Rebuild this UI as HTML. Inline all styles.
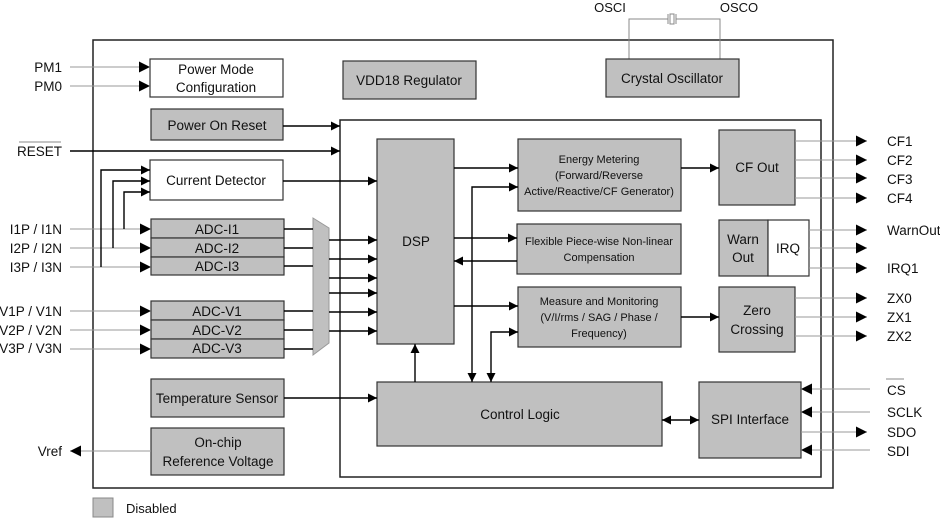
<!DOCTYPE html>
<html><head><meta charset="utf-8"><style>
html,body{margin:0;padding:0;background:#fff;}
svg{display:block;}
text{font-family:"Liberation Sans",sans-serif;fill:#111;}
</style></head><body>
<svg width="940" height="518" viewBox="0 0 940 518" xmlns="http://www.w3.org/2000/svg">
<defs>
<marker id="a" viewBox="0 0 10 10" refX="10" refY="5" markerWidth="13" markerHeight="9" markerUnits="userSpaceOnUse" orient="auto"><path d="M0,0L10,5L0,10z" fill="#000"/></marker>
<marker id="b" viewBox="0 0 10 10" refX="10" refY="5" markerWidth="15" markerHeight="11" markerUnits="userSpaceOnUse" orient="auto"><path d="M0,0L10,5L0,10z" fill="#000"/></marker>
<marker id="s" viewBox="0 0 10 10" refX="0" refY="5" markerWidth="13" markerHeight="9" markerUnits="userSpaceOnUse" orient="auto"><path d="M10,0L0,5L10,10z" fill="#000"/></marker>
</defs>
<!-- outer boxes -->
<rect x="93" y="40" width="740" height="448" fill="none" stroke="#222" stroke-width="1.5"/>
<rect x="340" y="120" width="481" height="357" fill="none" stroke="#222" stroke-width="1.5"/>
<!-- crystal -->
<g stroke="#888" fill="none" stroke-width="1">
<path d="M629,59V19H668M676,19H720V59"/>
<path d="M668,14V24M676,14V24"/><rect x="670" y="14" width="4" height="10"/>
</g>
<text x="610" y="12" font-size="13" text-anchor="middle">OSCI</text>
<text x="739" y="12" font-size="13" text-anchor="middle">OSCO</text>
<g stroke="#333" stroke-width="1.2">
<rect x="150" y="59" width="133" height="38" fill="#fff"/>
<rect x="343" y="61" width="133" height="38" fill="#c0c0c0"/>
<rect x="606" y="59" width="133" height="38" fill="#c0c0c0"/>
<rect x="151" y="109" width="132" height="31" fill="#c0c0c0"/>
<rect x="150" y="160" width="133" height="40" fill="#fff"/>
<rect x="151" y="219" width="133" height="19" fill="#c0c0c0"/>
<rect x="151" y="238" width="133" height="19" fill="#c0c0c0"/>
<rect x="151" y="257" width="133" height="18" fill="#c0c0c0"/>
<rect x="151" y="301" width="133" height="19" fill="#c0c0c0"/>
<rect x="151" y="320" width="133" height="19" fill="#c0c0c0"/>
<rect x="151" y="339" width="133" height="19" fill="#c0c0c0"/>
<rect x="151" y="379" width="133" height="38" fill="#c0c0c0"/>
<rect x="151" y="428" width="133" height="47" fill="#c0c0c0"/>
<rect x="377" y="139" width="77" height="205" fill="#c0c0c0"/>
<rect x="518" y="139" width="163" height="72" fill="#c0c0c0"/>
<rect x="517" y="224" width="164" height="50" fill="#c0c0c0"/>
<rect x="518" y="287" width="163" height="60" fill="#c0c0c0"/>
<rect x="719" y="130" width="76" height="75" fill="#c0c0c0"/>
<rect x="719" y="220" width="49" height="56" fill="#c0c0c0"/>
<rect x="768" y="220" width="41" height="56" fill="#fff"/>
<rect x="719" y="287" width="76" height="65" fill="#c0c0c0"/>
<rect x="377" y="382" width="285" height="64" fill="#c0c0c0"/>
<rect x="699" y="382" width="102" height="76" fill="#c0c0c0"/>
</g>
<rect x="93" y="498" width="20" height="19" fill="#c0c0c0" stroke="#888"/>
<polygon points="313,218 329,228 329,343 313,355" fill="#c0c0c0" stroke="#999"/>
<!-- box texts -->
<g font-size="13.5" text-anchor="middle">
<text x="216" y="74">Power Mode</text><text x="216" y="92">Configuration</text>
<text x="409" y="85">VDD18 Regulator</text>
<text x="672" y="83">Crystal Oscillator</text>
<text x="217" y="130">Power On Reset</text>
<text x="216" y="185">Current Detector</text>
<text x="217" y="234">ADC-I1</text><text x="217" y="253">ADC-I2</text><text x="217" y="271">ADC-I3</text>
<text x="217" y="316">ADC-V1</text><text x="217" y="335">ADC-V2</text><text x="217" y="353">ADC-V3</text>
<text x="217" y="403">Temperature Sensor</text>
<text x="218" y="447">On-chip</text><text x="218" y="466">Reference Voltage</text>
<text x="416" y="246">DSP</text>
<text x="757" y="172">CF Out</text>
<text x="743" y="244">Warn</text><text x="743" y="262">Out</text>
<text x="788" y="253">IRQ</text>
<text x="757" y="315">Zero</text><text x="757" y="334">Crossing</text>
<text x="520" y="419">Control Logic</text>
<text x="750" y="424">SPI Interface</text>
</g>
<g font-size="11" text-anchor="middle">
<text x="599" y="163">Energy Metering</text><text x="599" y="179">(Forward/Reverse</text><text x="599" y="195">Active/Reactive/CF Generator)</text>
<text x="599" y="245">Flexible Piece-wise Non-linear</text><text x="599" y="261">Compensation</text>
<text x="599" y="305">Measure and Monitoring</text><text x="599" y="321">(V/I/rms / SAG / Phase /</text><text x="599" y="337">Frequency)</text>
</g>
<text x="126" y="513" font-size="13">Disabled</text>
<!-- left labels -->
<g font-size="13.5" text-anchor="end">
<text x="62" y="72">PM1</text><text x="62" y="91">PM0</text>
<text x="62" y="156">RESET</text>
<text x="62" y="234">I1P / I1N</text><text x="62" y="253">I2P / I2N</text><text x="62" y="272">I3P / I3N</text>
<text x="62" y="316">V1P / V1N</text><text x="62" y="335">V2P / V2N</text><text x="62" y="353">V3P / V3N</text>
<text x="62" y="456">Vref</text>
</g>
<line x1="19" y1="142" x2="61" y2="142" stroke="#888"/>
<!-- right labels -->
<g font-size="13.5">
<text x="887" y="146">CF1</text><text x="887" y="165">CF2</text><text x="887" y="184">CF3</text><text x="887" y="203">CF4</text>
<text x="887" y="235">WarnOut</text><text x="887" y="273">IRQ1</text>
<text x="887" y="303">ZX0</text><text x="887" y="322">ZX1</text><text x="887" y="341">ZX2</text>
<text x="887" y="395">CS</text><text x="887" y="417">SCLK</text><text x="887" y="437">SDO</text><text x="887" y="456">SDI</text>
</g>
<line x1="886" y1="379" x2="904" y2="379" stroke="#888"/>
<!-- gray signal lines -->
<g stroke="#999" stroke-width="1" fill="none" marker-end="url(#b)">
<path d="M70,67H150"/><path d="M70,86H150"/>
<path d="M70,229H151"/><path d="M70,248H151"/><path d="M70,267H151"/>
<path d="M70,311H151"/><path d="M70,330H151"/><path d="M70,349H151"/>
<path d="M151,451H70"/>
<path d="M795,141H867"/><path d="M795,160H867"/><path d="M795,178H867"/><path d="M795,198H867"/>
<path d="M809,230H867"/><path d="M809,248H867"/><path d="M809,268H867"/>
<path d="M795,298H867"/><path d="M795,317H867"/><path d="M795,336H867"/>
<path d="M870,389H801"/><path d="M870,412H801"/><path d="M801,432H867"/><path d="M870,450H801"/>
</g>
<!-- black connectors -->
<g stroke="#000" stroke-width="1.4" fill="none">
<path d="M70,151H340" marker-end="url(#a)"/>
<path d="M283,126H340" marker-end="url(#a)"/>
<path d="M283,181H377" marker-end="url(#a)"/>
<path d="M101,267V170H150" marker-end="url(#a)"/>
<path d="M113,248V181H150" marker-end="url(#a)"/>
<path d="M124,229V192H150" marker-end="url(#a)"/>
<path d="M284,229H313M284,248H313M284,266H313M284,311H313M284,330H313M284,349H313"/>
<path d="M329,240H377" marker-end="url(#a)"/>
<path d="M329,259H377" marker-end="url(#a)"/>
<path d="M329,278H377" marker-end="url(#a)"/>
<path d="M329,293H377" marker-end="url(#a)"/>
<path d="M329,312H377" marker-end="url(#a)"/>
<path d="M329,331H377" marker-end="url(#a)"/>
<path d="M454,168H518" marker-end="url(#a)"/>
<path d="M472,382V187H518" marker-start="url(#s)" marker-end="url(#a)"/>
<path d="M454,238H517" marker-end="url(#a)"/>
<path d="M517,261H454" marker-end="url(#a)"/>
<path d="M454,306H518" marker-end="url(#a)"/>
<path d="M491,382V332H518" marker-start="url(#s)" marker-end="url(#a)"/>
<path d="M415,382V344" marker-end="url(#a)"/>
<path d="M681,168H719" marker-end="url(#a)"/>
<path d="M681,317H719" marker-end="url(#a)"/>
<path d="M662,420H699" marker-start="url(#s)" marker-end="url(#a)"/>
<path d="M284,398H377" marker-end="url(#a)"/>
</g>
</svg>
</body></html>
